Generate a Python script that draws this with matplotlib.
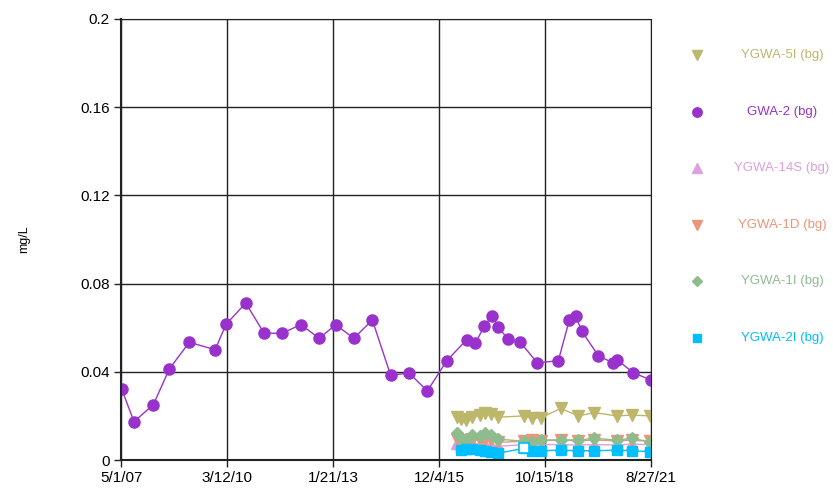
import numpy as np
import pandas as pd
import matplotlib
matplotlib.use('Agg')
import matplotlib.pyplot as plt
from matplotlib.lines import Line2D

plt.rcParams['font.family'] = ['Liberation Sans', 'DejaVu Sans']

# ---- data ----
gwa2_dates = ['2007-05-07', '2007-09-06', '2008-03-15', '2008-08-20', '2009-03-05',
              '2009-11-15', '2010-03-02', '2010-09-13', '2011-03-13', '2011-09-09',
              '2012-03-09', '2012-09-09', '2013-02-17', '2013-08-15', '2014-02-14',
              '2014-08-14', '2015-02-11', '2015-08-11', '2016-02-18', '2016-09-03',
              '2016-11-27', '2017-02-23', '2017-05-10', '2017-07-12', '2017-10-18',
              '2018-02-11', '2018-08-01', '2019-02-24', '2019-06-13', '2019-08-15',
              '2019-10-13', '2020-03-25', '2020-08-14', '2020-09-28', '2021-03-05',
              '2021-08-24']
gwa2 = [0.0322, 0.0174, 0.0251, 0.0413, 0.0534, 0.0500, 0.0615, 0.0712, 0.0575, 0.0575,
        0.0614, 0.0552, 0.0614, 0.0552, 0.0635, 0.0384, 0.0395, 0.0313, 0.0450, 0.0546,
        0.0529, 0.0608, 0.0653, 0.0602, 0.0547, 0.0535, 0.0441, 0.0450, 0.0635, 0.0653,
        0.0585, 0.0473, 0.0441, 0.0454, 0.0396, 0.0363]

ygwa_dates = ['2016-05-25', '2016-07-10', '2016-08-30', '2016-10-20', '2017-01-10',
              '2017-03-05', '2017-05-01', '2017-07-05', '2018-03-20', '2018-06-08',
              '2018-09-10', '2019-03-20', '2019-09-10', '2020-02-15', '2020-09-24',
              '2021-02-19', '2021-08-17']
ygwa_5i = [0.0196, 0.0185, 0.0181, 0.0195, 0.0204, 0.0212, 0.0209, 0.0194, 0.0200,
           0.0190, 0.0192, 0.0234, 0.0200, 0.0215, 0.0200, 0.0204, 0.0200]
ygwa_14s = [0.0078, 0.0072, 0.0070, 0.0075, 0.0070, 0.0072, 0.0068, 0.0062, 0.0070,
            0.0068, 0.0070, 0.0070, 0.0068, 0.0070, 0.0068, 0.0072, 0.0070]
ygwa_1d = [0.0095, 0.0090, 0.0088, 0.0092, 0.0090, 0.0095, 0.0090, 0.0080, 0.0085,
           0.0090, 0.0088, 0.0090, 0.0088, 0.0090, 0.0088, 0.0090, 0.0085]
ygwa_1i = [0.0121, 0.0100, 0.0095, 0.0113, 0.0110, 0.0121, 0.0113, 0.0095, 0.0085,
           0.0083, 0.0091, 0.0091, 0.0091, 0.0098, 0.0091, 0.0098, 0.0083]
ygwa_2i = [np.nan, 0.0045, 0.0050, 0.0048, 0.0045, 0.0042, 0.0038, 0.0030, 0.0053,
           0.0042, 0.0042, 0.0045, 0.0042, 0.0042, 0.0045, 0.0042, 0.0038]
ygwa_2i_nd = [False] * 8 + [True] + [False] * 8   # hollow marker (non-detect)

xtick_dates = ['2007-05-01', '2010-03-12', '2013-01-21', '2015-12-04', '2018-10-15', '2021-08-27']
xtick_labels = ['5/1/07', '3/12/10', '1/21/13', '12/4/15', '10/15/18', '8/27/21']
yticks = [0, 0.04, 0.08, 0.12, 0.16, 0.2]
ytick_labels = ['0', '0.04', '0.08', '0.12', '0.16', '0.2']

gd = pd.to_datetime(gwa2_dates)
yd = pd.to_datetime(ygwa_dates)

series = [
    ('YGWA-5I (bg)', yd, ygwa_5i, '#BDB76B', 'v', 8),
    ('GWA-2 (bg)', gd, gwa2, '#9932CC', 'o', 8),
    ('YGWA-14S (bg)', yd, ygwa_14s, '#DDA0DD', '^', 8),
    ('YGWA-1D (bg)', yd, ygwa_1d, '#E9967A', 'v', 8),
    ('YGWA-1I (bg)', yd, ygwa_1i, '#8FBC8F', 'D', 6.5),
    ('YGWA-2I (bg)', yd, ygwa_2i, '#00BFFF', 's', 7.5),
]

fig = plt.figure(figsize=(8.33, 4.92), dpi=100)
ax = fig.add_axes([0.1453, 0.065, 0.6362, 0.8964])

for name, d, v, c, m, ms in series:
    ax.plot(d, v, color=c, lw=1, marker=m, ms=ms, mec=c, mfc=c)

# hollow marker for the non-detect 2I sample
nd_d = [d for d, f in zip(yd, ygwa_2i_nd) if f]
nd_v = [v for v, f in zip(ygwa_2i, ygwa_2i_nd) if f]
ax.plot(nd_d, nd_v, ls='none', marker='s', ms=7.5, mec='#00BFFF', mfc='white', mew=1.2, zorder=5)

xt = pd.to_datetime(xtick_dates)
ax.set_xlim(xt[0], xt[-1])
ax.set_xticks(xt)
ax.set_xticklabels(xtick_labels, fontsize=11)
ax.set_ylim(0, 0.2)
ax.set_yticks(yticks)
ax.set_yticklabels(ytick_labels, fontsize=11)
ax.grid(True, color='#222222', lw=1)
ax.set_axisbelow(True)
for s in ax.spines.values():
    s.set_color('#222222')
ax.spines['left'].set_linewidth(1.5)
ax.spines['bottom'].set_linewidth(1.5)
ax.tick_params(direction='out', length=5, width=1, colors='#222222', labelcolor='black', pad=3)
ax.set_ylabel('mg/L', fontsize=9, labelpad=36)

# legend drawn at the right side
for i, (name, d, v, c, m, ms) in enumerate(series):
    yy = 1 - (55 + i * 56.6) / 492
    fig.add_artist(Line2D([697 / 833], [yy], transform=fig.transFigure, marker=m,
                          ms=ms * 0.85, color=c, ls='none'))
    fig.text(782 / 833, yy, name, color=c, fontsize=9.5, ha='center', va='center')

fig.savefig('out.png', dpi=100)
